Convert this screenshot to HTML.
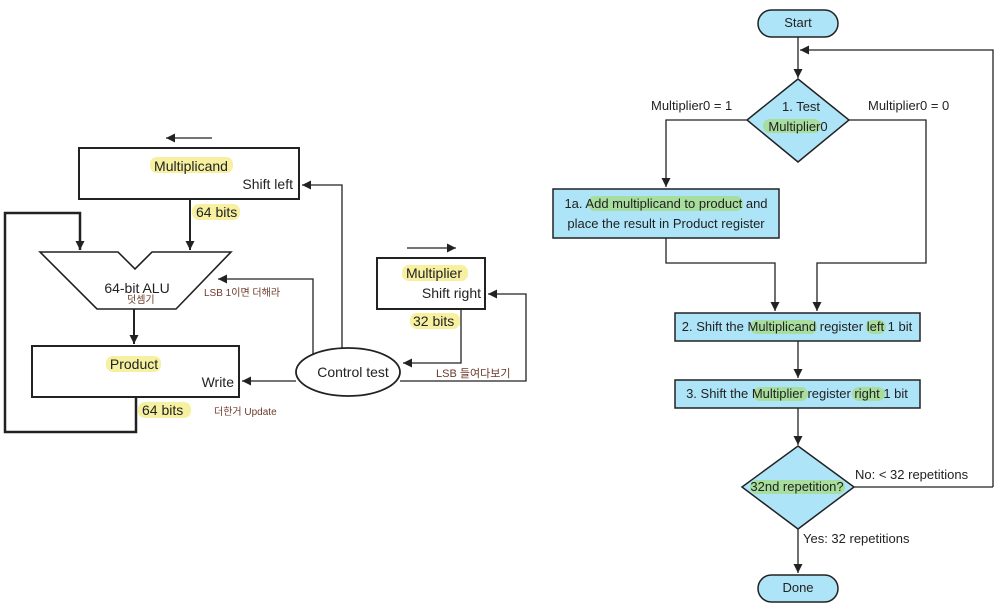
<!DOCTYPE html>
<html><head><meta charset="utf-8"><style>
html,body{margin:0;padding:0;background:#fff;}
svg{display:block;font-family:"Liberation Sans","Noto Sans CJK KR",sans-serif;}
</style></head><body>
<svg width="998" height="609" viewBox="0 0 998 609" xmlns="http://www.w3.org/2000/svg">
<defs>
<marker id="a" viewBox="0 0 10 10" refX="10" refY="5" markerWidth="9" markerHeight="9" markerUnits="userSpaceOnUse" orient="auto"><path d="M0,0L10,5L0,10z" fill="#222"/></marker>
</defs>
<g stroke="#222" fill="none" stroke-width="1.3">
<line x1="212" y1="138" x2="166" y2="138" marker-end="url(#a)"/>
<rect x="79" y="148" width="220" height="51" stroke-width="2"/>
<line x1="190" y1="199" x2="190" y2="250" stroke-width="2" marker-end="url(#a)"/>
<polyline points="136,397 136,432 5,432 5,213 80,213 80,250" stroke-width="2.5"/>
<line x1="80" y1="240" x2="80" y2="250" stroke-width="2" marker-end="url(#a)"/>
<polygon points="40,252 118,252 135,269 152,252 231,252 176,309 97,309" stroke-width="1.6"/>
<line x1="134" y1="309" x2="134" y2="344" stroke-width="2" marker-end="url(#a)"/>
<rect x="32" y="346" width="207" height="51" stroke-width="2"/>
<ellipse cx="348" cy="372" rx="52" ry="24" stroke-width="1.8"/>
<line x1="296" y1="381" x2="242" y2="381" marker-end="url(#a)"/>
<polyline points="313,355 313,279 218,279" marker-end="url(#a)"/>
<polyline points="342,348 342,185 302,185" marker-end="url(#a)"/>
<rect x="377" y="258" width="108" height="51" stroke-width="2"/>
<line x1="407" y1="248" x2="456" y2="248" marker-end="url(#a)"/>
<polyline points="461,309 461,363 403,363" marker-end="url(#a)"/>
<polyline points="400,381 526,381 526,294 488,294" marker-end="url(#a)"/>
<rect x="758" y="10" width="80" height="27" rx="13.5" fill="#aee4f8" stroke-width="1.5"/>
<line x1="798" y1="37" x2="798" y2="78" marker-end="url(#a)"/>
<polyline points="993,487 993,50 800,50" marker-end="url(#a)"/>
<polygon points="798,79 849,120 798,162 747,120" fill="#aee4f8" stroke-width="1.5"/>
<polyline points="747,120 666,120 666,187" marker-end="url(#a)"/>
<rect x="553" y="189" width="226" height="49" fill="#aee4f8" stroke-width="1.5"/>
<polyline points="666,238 666,263 775,263 775,311" marker-end="url(#a)"/>
<polyline points="849,120 926,120 926,263 817,263 817,311" marker-end="url(#a)"/>
<rect x="675" y="313" width="245" height="28" fill="#aee4f8" stroke-width="1.5"/>
<line x1="798" y1="341" x2="798" y2="378" marker-end="url(#a)"/>
<rect x="675" y="380" width="245" height="28" fill="#aee4f8" stroke-width="1.5"/>
<line x1="798" y1="408" x2="798" y2="445" marker-end="url(#a)"/>
<polygon points="798,446 854,487 798,529 742,487" fill="#aee4f8" stroke-width="1.5"/>
<line x1="854" y1="487" x2="993" y2="487"/>
<line x1="798" y1="529" x2="798" y2="573" marker-end="url(#a)"/>
<rect x="758" y="575" width="80" height="27" rx="13.5" fill="#aee4f8" stroke-width="1.5"/>
</g>
<g opacity="0.85">
<rect x="150" y="157" width="83" height="16" rx="7" fill="#f5ee90"/>
<rect x="192" y="204" width="48" height="16" rx="7" fill="#f5ee90"/>
<rect x="106" y="356" width="55" height="16" rx="7" fill="#f5ee90"/>
<rect x="138" y="402" width="53" height="16" rx="7" fill="#f5ee90"/>
<rect x="402" y="265" width="66" height="16" rx="7" fill="#f5ee90"/>
<rect x="410" y="313" width="50" height="16" rx="7" fill="#f5ee90"/>
<rect x="763" y="119" width="58" height="14" rx="7" fill="#a6dc8e"/>
<rect x="588" y="196" width="155" height="15" rx="7" fill="#a6dc8e"/>
<rect x="750" y="320" width="67" height="14" rx="7" fill="#a6dc8e"/>
<rect x="866" y="320" width="20" height="14" rx="7" fill="#a6dc8e"/>
<rect x="753" y="387" width="55" height="14" rx="7" fill="#a6dc8e"/>
<rect x="852" y="387" width="33" height="14" rx="7" fill="#a6dc8e"/>
<rect x="750" y="480" width="95" height="14" rx="7" fill="#a6dc8e"/>
</g>
<g fill="#222" font-size="14">
<text x="191" y="171" text-anchor="middle">Multiplicand</text>
<text x="293" y="189" text-anchor="end">Shift left</text>
<text x="196" y="217">64 bits</text>
<text x="137" y="293" text-anchor="middle">64-bit ALU</text>
<text x="134" y="369" text-anchor="middle">Product</text>
<text x="234" y="387" text-anchor="end">Write</text>
<text x="142" y="415">64 bits</text>
<text x="353" y="377" text-anchor="middle">Control test</text>
<text x="434" y="278" text-anchor="middle">Multiplier</text>
<text x="481" y="298" text-anchor="end">Shift right</text>
<text x="413" y="326">32 bits</text>
</g>
<g fill="#6b3a2a" font-size="10">
<text x="127" y="303">덧셈기</text>
<text x="204" y="296">LSB 1이면 더해라</text>
<text x="436" y="377" font-size="11">LSB 들여다보기</text>
<text x="214" y="415">더한거 Update</text>
</g>
<g fill="#222" font-size="13">
<text x="798" y="27" text-anchor="middle">Start</text>
<text x="801" y="111" text-anchor="middle">1. Test</text>
<text x="798" y="131" text-anchor="middle">Multiplier0</text>
<text x="651" y="110">Multiplier0 = 1</text>
<text x="868" y="110">Multiplier0 = 0</text>
<text x="666" y="208" text-anchor="middle">1a.  Add multiplicand to product and</text>
<text x="666" y="228" text-anchor="middle">place the result in Product register</text>
<text x="797" y="331" text-anchor="middle">2.  Shift the Multiplicand register left 1 bit</text>
<text x="797" y="398" text-anchor="middle">3.  Shift the Multiplier register right 1 bit</text>
<text x="797" y="491" text-anchor="middle">32nd repetition?</text>
<text x="855" y="479">No: &lt; 32 repetitions</text>
<text x="803" y="543">Yes: 32 repetitions</text>
<text x="798" y="592" text-anchor="middle">Done</text>
</g>
</svg>
</body></html>
